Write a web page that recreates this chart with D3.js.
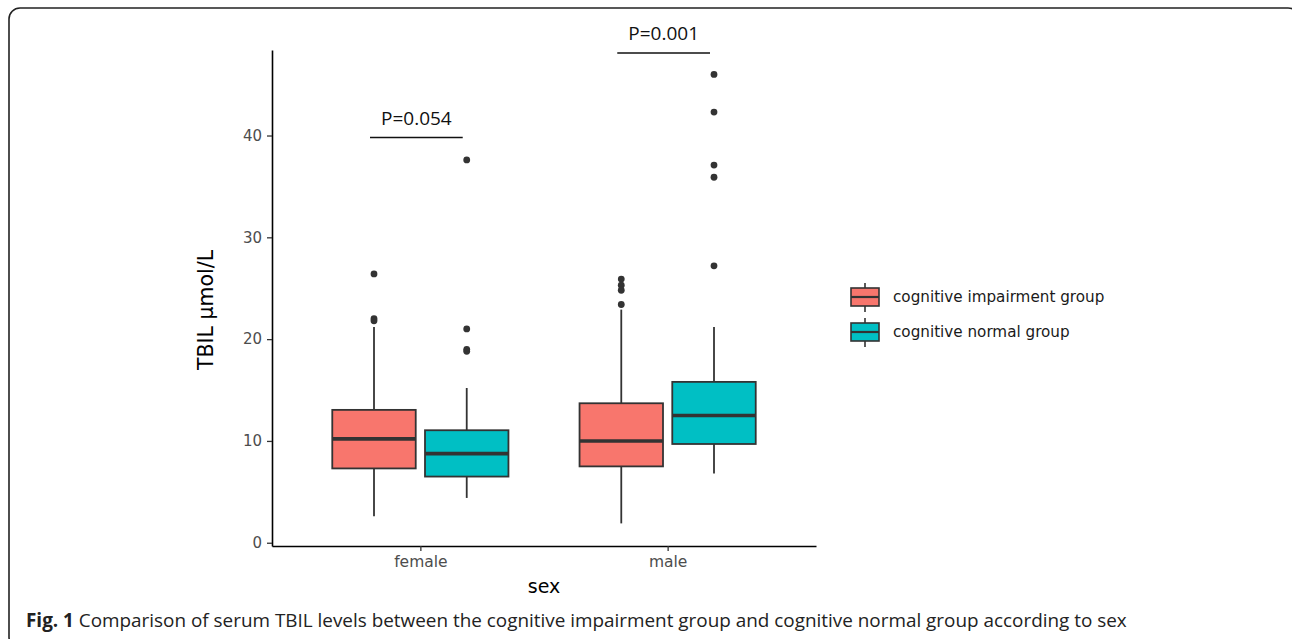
<!DOCTYPE html>
<html>
<head>
<meta charset="utf-8">
<script src="https://cdn.jsdelivr.net/npm/d3@7"></script>
<style>
  html, body { margin: 0; padding: 0; background: #fff; }
  svg { display: block; }
</style>
</head>
<body>
<svg id="chart" width="1292" height="639"></svg>
<script>
// ---- data ----
const categories = ["female", "male"];
const groups = ["cognitive impairment group", "cognitive normal group"];
const colors = ["#F8766D", "#00BFC4"];
// [category][group]
const whiskerLow  = [[2.6, 4.4], [1.9, 6.8]];
const q1          = [[7.3, 6.5], [7.5, 9.7]];
const median      = [[10.2, 8.75], [10.0, 12.5]];
const q3          = [[13.05, 11.05], [13.7, 15.8]];
const whiskerHigh = [[21.2, 15.2], [22.9, 21.2]];
const outliers = [
  [[26.4, 22.0, 21.8], [37.6, 21.0, 19.0, 18.8]],
  [[25.9, 25.3, 24.8, 23.4], [46.0, 42.3, 37.1, 35.9, 27.2]]
];
const pLabels = ["P=0.054", "P=0.001"];
const bracketY = [39.8, 48.1];
const yTicks = [0, 10, 20, 30, 40];
const caption = "Comparison of serum TBIL levels between the cognitive impairment group and cognitive normal group according to sex";

// ---- layout ----
const svg = d3.select("#chart");
const pLeft = 272, pRight = 816, pTop = 50, pBottom = 546;
const axisFont = "DejaVu Sans";

svg.append("rect")
  .attr("x", 9).attr("y", 8).attr("width", 1290).attr("height", 640)
  .attr("rx", 11).attr("fill", "none").attr("stroke", "#222").attr("stroke-width", 1.6);

const x = d3.scalePoint().domain(categories).range([pLeft, pRight]).padding(0.6);
const step = x.step();
const xg = d3.scaleBand().domain(groups)
  .range([-0.375 * step, 0.375 * step]).paddingInner(0.1).paddingOuter(0.05);
const bw = xg.bandwidth();
const y = d3.scaleLinear().domain([-0.32, 48.4]).range([pBottom, pTop]);

const g = svg.append("g");

// boxes
categories.forEach((c, ci) => {
  groups.forEach((gr, gi) => {
    const cx = x(c) + xg(gr) + bw / 2;
    const bg = g.append("g");
    bg.append("line").attr("x1", cx).attr("x2", cx)
      .attr("y1", y(q3[ci][gi])).attr("y2", y(whiskerHigh[ci][gi]))
      .attr("stroke", "#333").attr("stroke-width", 1.8);
    bg.append("line").attr("x1", cx).attr("x2", cx)
      .attr("y1", y(q1[ci][gi])).attr("y2", y(whiskerLow[ci][gi]))
      .attr("stroke", "#333").attr("stroke-width", 1.8);
    bg.append("rect")
      .attr("x", cx - bw / 2).attr("width", bw)
      .attr("y", y(q3[ci][gi])).attr("height", y(q1[ci][gi]) - y(q3[ci][gi]))
      .attr("fill", colors[gi]).attr("stroke", "#333").attr("stroke-width", 1.8);
    bg.append("line").attr("x1", cx - bw / 2).attr("x2", cx + bw / 2)
      .attr("y1", y(median[ci][gi])).attr("y2", y(median[ci][gi]))
      .attr("stroke", "#333").attr("stroke-width", 3.6);
    bg.selectAll("circle").data(outliers[ci][gi]).join("circle")
      .attr("cx", cx).attr("cy", d => y(d)).attr("r", 3.4).attr("fill", "#333");
  });
  const x1 = x(c) + xg(groups[0]) + bw / 2 - 4;
  const x2 = x(c) + xg(groups[1]) + bw / 2 - 4;
  g.append("line").attr("x1", x1).attr("x2", x2)
    .attr("y1", y(bracketY[ci])).attr("y2", y(bracketY[ci]))
    .attr("stroke", "#111").attr("stroke-width", 1.6);
  g.append("text").attr("x", (x1 + x2) / 2).attr("y", y(bracketY[ci]) - 13)
    .attr("text-anchor", "middle").attr("font-family", "Open Sans")
    .attr("font-size", 19).attr("fill", "#111").text(pLabels[ci]);
});

// axes
const yAxis = svg.append("g").attr("transform", `translate(${pLeft},0)`)
  .call(d3.axisLeft(y).tickValues(yTicks).tickSize(5).tickPadding(5).tickSizeOuter(0));
yAxis.select(".domain").attr("stroke", "#000").attr("stroke-width", 1.6);
yAxis.selectAll(".tick line").attr("stroke", "#333").attr("stroke-width", 1.3);
yAxis.selectAll(".tick text").attr("font-family", axisFont)
  .attr("font-size", 15).attr("fill", "#4D4D4D");

const xAxis = svg.append("g").attr("transform", `translate(0,${pBottom})`)
  .call(d3.axisBottom(x).tickSize(5).tickPadding(5).tickSizeOuter(0));
xAxis.select(".domain").attr("stroke", "#000").attr("stroke-width", 1.6);
xAxis.selectAll(".tick line").attr("stroke", "#333").attr("stroke-width", 1.3);
xAxis.selectAll(".tick text").attr("font-family", axisFont)
  .attr("font-size", 15.5).attr("fill", "#4D4D4D");

// axis titles
svg.append("text").attr("x", (pLeft + pRight) / 2).attr("y", 593)
  .attr("text-anchor", "middle").attr("font-family", axisFont)
  .attr("font-size", 19).attr("fill", "#000").text("sex");
svg.append("text").attr("transform", `translate(213,310) rotate(-90)`)
  .attr("text-anchor", "middle").attr("font-family", axisFont)
  .attr("font-size", 20.5).attr("fill", "#000").text("TBIL µmol/L");

// legend
const legend = svg.append("g").attr("transform", "translate(851,283)");
groups.forEach((gr, gi) => {
  const ly = gi * 35;
  const lg = legend.append("g").attr("transform", `translate(0,${ly})`);
  lg.append("line").attr("x1", 14).attr("x2", 14).attr("y1", 0).attr("y2", 29)
    .attr("stroke", "#333").attr("stroke-width", 1.6);
  lg.append("rect").attr("x", 0).attr("y", 5).attr("width", 28).attr("height", 18)
    .attr("fill", colors[gi]).attr("stroke", "#333").attr("stroke-width", 1.6);
  lg.append("line").attr("x1", 0).attr("x2", 28).attr("y1", 14).attr("y2", 14)
    .attr("stroke", "#333").attr("stroke-width", 2.2);
  lg.append("text").attr("x", 42).attr("y", 19)
    .attr("font-family", axisFont).attr("font-size", 15.2)
    .attr("fill", "#1a1a1a").text(gr);
});

// caption
const cap = svg.append("text").attr("x", 26).attr("y", 627)
  .attr("font-family", "Open Sans").attr("font-size", 18.9).attr("fill", "#222");
cap.append("tspan").attr("font-weight", "bold").text("Fig. 1");
cap.append("tspan").text(" " + caption);
</script>
</body>
</html>
